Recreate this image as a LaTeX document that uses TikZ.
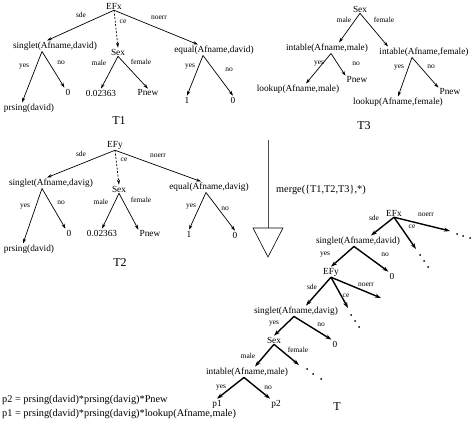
\documentclass[tikz,border=0pt]{standalone}
\usepackage{fontspec}
\setmainfont{Liberation Serif}
\usetikzlibrary{arrows.meta}
\begin{document}
\begin{tikzpicture}[x=1pt,y=-1pt,
  lbl/.style={inner sep=1pt,font=\fontsize{9.3}{11}\selectfont},
  elbl/.style={inner sep=0pt,font=\fontsize{7.5}{9}\selectfont},
  ttl/.style={inner sep=0pt,font=\fontsize{12}{14}\selectfont},
  eqs/.style={inner sep=1pt,font=\fontsize{10.3}{12}\selectfont},
  arr/.style={line width=0.7pt,-{Stealth[length=5pt,width=3.2pt]}},
  darr/.style={arr,dash pattern=on 2pt off 1.5pt},
  barr/.style={line width=1.4pt,-{Stealth[length=6pt,width=4pt]}}
]
\useasboundingbox (0,0) rectangle (475,428);
% ---------------- T1
\node[lbl] (efx) at (114,6) {EFx};
\node[lbl] (s1) at (55,46) {singlet(Afname,david)};
\node[lbl] (sex1) at (118,52) {Sex};
\node[lbl] (eq1) at (214,50) {equal(Afname,david)};
\node[lbl] (pr1) at (29,108) {prsing(david)};
\node[lbl] (z1) at (68,92) {0};
\node[lbl] (v1) at (101,93) {0.02363};
\node[lbl] (pn1) at (148,93) {Pnew};
\node[lbl] (o1) at (187,100) {1};
\node[lbl] (z1b) at (233,100) {0};
\node[ttl] (t1) at (119,121) {T1};
\draw[arr] (efx.south) -- ([xshift=-8pt]s1.north);
\draw[darr] (efx.south) -- (sex1.north);
\draw[arr] (efx.south) -- ([xshift=-16pt]eq1.north);
\draw[arr] ([xshift=-13pt]s1.south) -- ([xshift=-7pt]pr1.north);
\draw[arr] ([xshift=-13pt]s1.south) -- (z1.north west);
\draw[arr] (sex1.south) -- (v1.north);
\draw[arr] (sex1.south) -- (pn1.north);
\draw[arr] ([xshift=-11pt]eq1.south) -- (o1.north);
\draw[arr] ([xshift=-11pt]eq1.south) -- (z1b.north);
\node[elbl] (a1) at (81,15) {sde};
\node[elbl] (a2) at (123,22) {ce};
\node[elbl] (a3) at (159,18) {noerr};
\node[elbl] (a4) at (24,67) {yes};
\node[elbl] (a5) at (61,63) {no};
\node[elbl] (a6) at (99,63) {male};
\node[elbl] (a7) at (141,62) {female};
\node[elbl] (a8) at (190,67) {yes};
\node[elbl] (a9) at (229,70) {no};
% ---------------- T2
\node[lbl] (efy) at (115,145) {EFy};
\node[lbl] (s2) at (51,183) {singlet(Afname,davig)};
\node[lbl] (sex2) at (119,189) {Sex};
\node[lbl] (eq2) at (209,187) {equal(Afname,davig)};
\node[lbl] (pr2) at (29,249) {prsing(david)};
\node[lbl] (z2) at (69,233) {0};
\node[lbl] (v2) at (102,233) {0.02363};
\node[lbl] (pn2) at (150,234) {Pnew};
\node[lbl] (o2) at (189,234) {1};
\node[lbl] (z2b) at (235,235) {0};
\node[ttl] (t2) at (120,263) {T2};
\draw[arr] (efy.south) -- ([xshift=-4pt]s2.north);
\draw[darr] (efy.south) -- (sex2.north);
\draw[arr] (efy.south) -- ([xshift=-8pt]eq2.north);
\draw[arr] ([xshift=-9pt]s2.south) -- ([xshift=-6pt]pr2.north);
\draw[arr] ([xshift=-9pt]s2.south) -- (z2.north west);
\draw[arr] (sex2.south) -- (v2.north);
\draw[arr] (sex2.south) -- (pn2.north west);
\draw[arr] ([xshift=-3pt]eq2.south) -- (o2.north);
\draw[arr] ([xshift=-3pt]eq2.south) -- (z2b.north);
\node[elbl] (b1) at (81,154) {sde};
\node[elbl] (b2) at (124,160) {ce};
\node[elbl] (b3) at (158,156) {noerr};
\node[elbl] (b4) at (25,207) {yes};
\node[elbl] (b5) at (61,203) {no};
\node[elbl] (b6) at (101,202) {male};
\node[elbl] (b7) at (141,200) {female};
\node[elbl] (b8) at (191,207) {yes};
\node[elbl] (b9) at (225,209) {no};
% ---------------- T3
\node[lbl] (sex3) at (360,9) {Sex};
\node[lbl] (im) at (327,48) {intable(Afname,male)};
\node[lbl] (ifm) at (424,52) {intable(Afname,female)};
\node[lbl] (lm) at (298,89) {lookup(Afname,male)};
\node[lbl] (pnm) at (357,80) {Pnew};
\node[lbl] (lf) at (398,102) {lookup(Afname,female)};
\node[lbl] (pnf) at (450,92) {Pnew};
\node[ttl] (t3) at (364,126) {T3};
\draw[arr] (sex3.south) -- ([xshift=12pt]im.north);
\draw[arr] (sex3.south) -- ([xshift=-36pt]ifm.north);
\draw[arr] ([xshift=4pt]im.south) -- ([xshift=8pt]lm.north);
\draw[arr] ([xshift=4pt]im.south) -- (pnm.north west);
\draw[arr] ([xshift=-12pt]ifm.south) -- (lf.north);
\draw[arr] ([xshift=-12pt]ifm.south) -- (pnf.north west);
\node[elbl] (c1) at (344,20) {male};
\node[elbl] (c2) at (384,20) {female};
\node[elbl] (c3) at (319,64) {yes};
\node[elbl] (c4) at (356,64) {no};
\node[elbl] (c5) at (399,68) {yes};
\node[elbl] (c6) at (431,67) {no};
% ---------------- merge arrow
\coordinate (mtop) at (268,140);
\coordinate (mbot) at (268,228);
\draw[line width=0.5pt,black!70] (mtop) -- (mbot);
\draw[line width=0.6pt] (253,228) -- (283,228) -- (268,257) -- cycle;
\node[eqs,anchor=west] (mtext) at (275,190) {merge(\{T1,T2,T3\},*)};
% ---------------- T
\node[lbl] (efx2) at (394,213) {EFx};
\node[lbl] (st) at (358,241) {singlet(Afname,david)};
\node[lbl] (efy2) at (331,272) {EFy};
\node[lbl] (z3) at (392,276) {0};
\node[lbl] (st2) at (296,311) {singlet(Afname,davig)};
\node[lbl] (sex4) at (274,340) {Sex};
\node[lbl] (z4) at (335,344) {0};
\node[lbl] (it) at (247,372) {intable(Afname,male)};
\node[lbl] (p1) at (217,404) {p1};
\node[lbl] (p2) at (276,404) {p2};
\node[ttl] (tT) at (337,407) {T};
\coordinate (e1) at (416,249);
\coordinate (e2) at (450,231);
\coordinate (e3) at (348,308);
\coordinate (e4) at (381,298);
\coordinate (e5) at (299,365);
\draw[barr] (efx2.south) -- ([xshift=13pt]st.north);
\draw[barr] (efx2.south) -- (e1);
\draw[barr] (efx2.south) -- (e2);
\draw[barr] ([xshift=-4pt]st.south) -- (efy2.north);
\draw[barr] ([xshift=-4pt]st.south) -- (z3.north west);
\draw[barr] (efy2.south) -- ([xshift=10pt]st2.north);
\draw[barr] (efy2.south) -- (e3);
\draw[barr] (efy2.south) -- (e4);
\draw[barr] ([xshift=-2pt]st2.south) -- (sex4.north);
\draw[barr] ([xshift=-2pt]st2.south) -- (z4.north west);
\draw[barr] (sex4.south) -- ([xshift=8pt]it.north);
\draw[barr] (sex4.south) -- (e5);
\draw[barr] ([xshift=-3pt]it.south) -- (p1.north);
\draw[barr] ([xshift=-3pt]it.south) -- (p2.north west);
\foreach \p in {(420,255),(424,261),(428,267),(457,234),(463,236),(470,238),(351,315),(355,321),(359,327),(307,369),(313,374),(321,379)}
  \fill \p circle (1pt);
\node[elbl] (d1) at (374,218) {sde};
\node[elbl] (d2) at (412,227) {ce};
\node[elbl] (d3) at (426,215) {noerr};
\node[elbl] (d4) at (325,255) {yes};
\node[elbl] (d5) at (385,255) {no};
\node[elbl] (d6) at (312,287) {sde};
\node[elbl] (d7) at (346,296) {ce};
\node[elbl] (d8) at (366,285) {noerr};
\node[elbl] (d9) at (274,324) {yes};
\node[elbl] (d10) at (321,325) {no};
\node[elbl] (d11) at (248,356) {male};
\node[elbl] (d12) at (298,350) {female};
\node[elbl] (d13) at (221,388) {yes};
\node[elbl] (d14) at (268,388) {no};
% ---------------- equations
\node[eqs,anchor=west] (eqa) at (1,400) {p2 = prsing(david)*prsing(davig)*Pnew};
\node[eqs,anchor=west] (eqb) at (1,414) {p1 = prsing(david)*prsing(davig)*lookup(Afname,male)};
\end{tikzpicture}
\end{document}
